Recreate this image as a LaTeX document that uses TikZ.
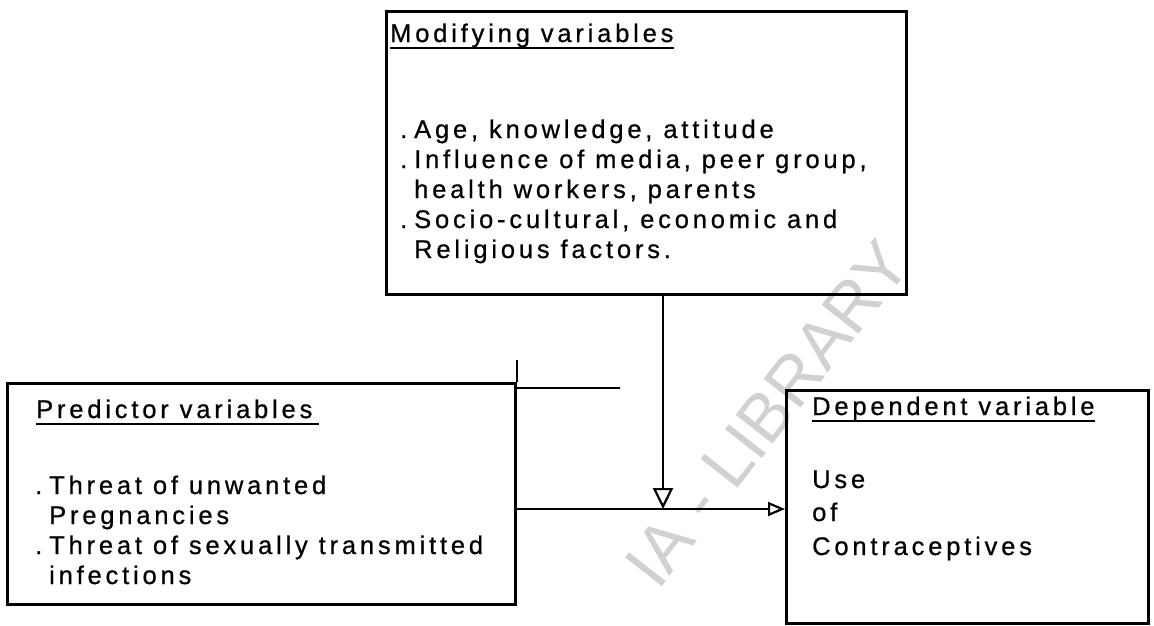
\documentclass[tikz,border=0pt]{standalone}
\usepackage{fontspec}
\setmainfont{Liberation Sans}[LetterSpace=15, FakeBold=0.7]
\newfontfamily\wmfont{Liberation Sans}
\usetikzlibrary{arrows.meta}
\newcommand\bul{\makebox[14pt][l]{.}}
\begin{document}
\begin{tikzpicture}[x=1pt,y=-1pt,
  box/.style={draw, line width=2.8pt, inner sep=0pt, anchor=north west},
  txt/.style={inner sep=0pt, anchor=base west, font=\fontsize{25.5}{30}\selectfont},
  uln/.style={line width=1.7pt},
  conn/.style={line width=2.2pt},
  tipV/.style={-{Triangle[open, length=21pt, width=20pt, line width=2.2pt]}},
  tipH/.style={-{Triangle[open, length=17pt, width=14pt, line width=2.2pt]}},
  wm/.style={text=black!18, font=\wmfont\fontsize{68}{68}\selectfont, inner sep=0pt}]
\useasboundingbox (0,0) rectangle (1154,625);
\fill[white] (0,0) rectangle (1154,625);
\begin{scope}
\clip (0,0) rectangle (1154,625);
\node[wm, rotate=52, anchor=east] (wm) at (895,250) {IA - LIBRARY};
\end{scope}
% boxes
\node[box, minimum width=520pt, minimum height=283pt] (mod) at (385,10) {};
\node[box, minimum width=508pt, minimum height=221pt] (pred) at (6,382) {};
\node[box, minimum width=362pt, minimum height=233pt] (dep) at (785,389) {};
\draw[conn] (pred.north east) -- ++(0,-22);
\draw[conn] ([yshift=-6pt]pred.north east) -- ++(103,0);
% modifying text
\node[txt] (mt) at (390,42) {Modifying variables};
\draw[uln] ([yshift=-6pt]mt.base west) -- ([yshift=-6pt]mt.base east);
\node[txt] (m1) at (400,138) {\bul Age, knowledge, attitude};
\node[txt] (m2) at (400,168) {\bul Influence of media, peer group,};
\node[txt] (m3) at (414,198) {health workers, parents};
\node[txt] (m4) at (400,228) {\bul Socio-cultural, economic and};
\node[txt] (m5) at (414,258) {Religious factors.};
% predictor text
\node[txt] (pt) at (36,418) {Predictor variables};
\draw[uln] ([yshift=-6pt]pt.base west) -- ([yshift=-6pt,xshift=6pt]pt.base east);
\node[txt] (p1) at (35,494) {\bul Threat of unwanted};
\node[txt] (p2) at (49,524) {Pregnancies};
\node[txt] (p3) at (35,554) {\bul Threat of sexually transmitted};
\node[txt] (p4) at (49,584) {infections};
% dependent text
\node[txt] (dt) at (812,415) {Dependent variable};
\draw[uln] ([yshift=-6pt]dt.base west) -- ([yshift=-6pt]dt.base east);
\node[txt] (d1) at (812,488) {Use};
\node[txt] (d2) at (812,521) {of};
\node[txt] (d3) at (812,555) {Contraceptives};
% connectors
\coordinate (j) at (663,509);
\draw[conn, tipV] (mod.south -| j) -- (j);
\draw[conn, tipH] (pred.east |- j) -- (dep.west |- j);
\end{tikzpicture}
\end{document}
